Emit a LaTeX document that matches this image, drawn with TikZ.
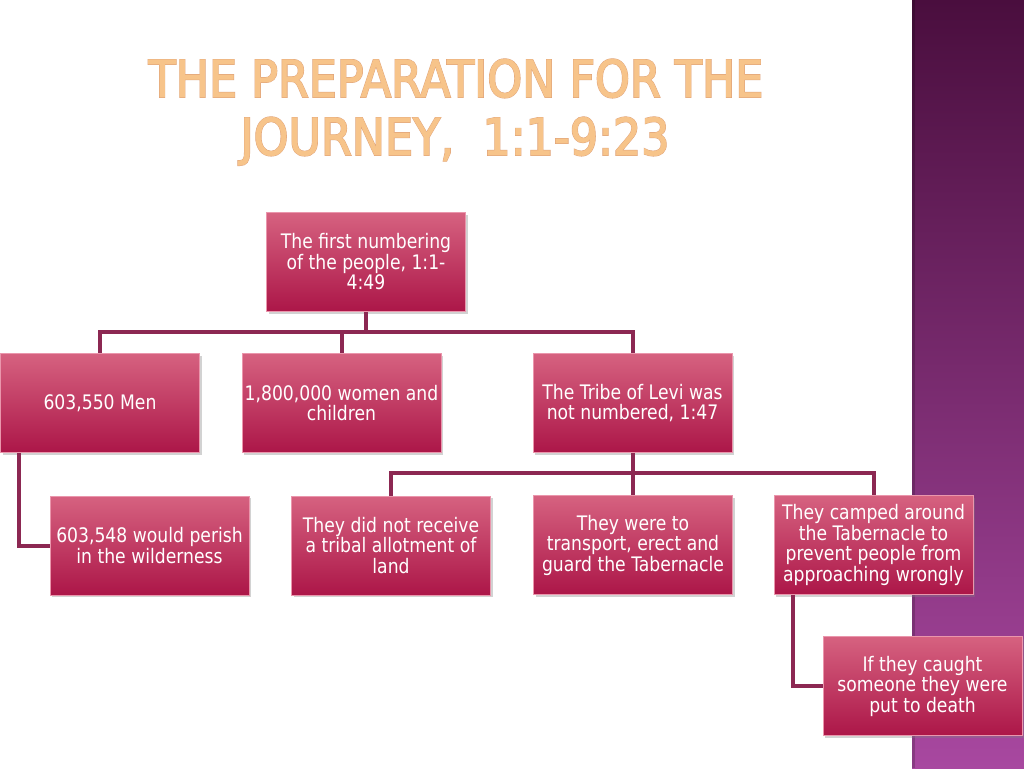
\documentclass[tikz,border=0pt]{standalone}
\usepackage{fontspec}
\setmainfont{DejaVu Sans}[FakeStretch=0.86]
\newfontfamily\titleout{DejaVu Sans}[FakeStretch=0.87,FakeBold=3.2]
\newfontfamily\titlein{DejaVu Sans}[FakeStretch=0.87,FakeBold=1.6]
\usetikzlibrary{shadows,calc}
\definecolor{boxtop}{RGB}{214,98,128}
\definecolor{boxbot}{RGB}{172,22,72}
\definecolor{boxedge}{RGB}{234,150,172}
\definecolor{conncol}{RGB}{140,40,82}
\definecolor{stripetop}{RGB}{74,14,62}
\definecolor{stripebot}{RGB}{168,72,160}
\definecolor{titlecol}{RGB}{247,196,138}
\definecolor{titleedge}{RGB}{222,160,120}
\begin{document}
\begin{tikzpicture}[x=1pt,y=-1pt,
  box/.style={rectangle, minimum width=199pt, minimum height=99pt, inner sep=1pt,
    text=white, align=center, font=\fontsize{20}{20.5}\selectfont,
    top color=boxtop, bottom color=boxbot, draw=boxedge, line width=0.8pt,
    drop shadow={shadow xshift=2pt, shadow yshift=-2pt, opacity=0.35}},
  conn/.style={draw=conncol, line width=4pt},
  titleback/.style={anchor=base, text=titleedge, font=\titleout\fontsize{51}{58}\selectfont, inner sep=0pt},
  titletext/.style={anchor=base, text=titlecol, font=\titlein\fontsize{51}{58}\selectfont, inner sep=0pt}]
\useasboundingbox (0,0) rectangle (1024,768);
\fill[white] (0,0) rectangle (1024,768);
\shade[top color=stripetop, bottom color=stripebot] (912,0) rectangle (1024,768);
\fill[black, opacity=0.18] (912,0) rectangle (915,768);

\node[titleback] (t1b) at (456,97) {THE PREPARATION FOR THE};
\node[titleback] (t2b) at (455,155) {JOURNEY,\ \ 1:1-9:23};
\node[titletext] (t1) at (456,97) {THE PREPARATION FOR THE};
\node[titletext] (t2) at (455,155) {JOURNEY,\ \ 1:1-9:23};

\node[box] (root) at (366,262) {The first numbering\\of the people, 1:1-\\4:49};
\node[box] (men) at (100,403) {603,550 Men};
\node[box] (women) at (341.5,403) {1,800,000 women and\\children};
\node[box] (levi) at (632.5,403) {The Tribe of Levi was\\not numbered, 1:47};
\node[box] (perish) at (149.5,545.5) {603,548 would perish\\in the wilderness};
\node[box] (notrecv) at (391,545.5) {They did not receive\\a tribal allotment of\\land};
\node[box] (transport) at (633,545) {They were to\\transport, erect and\\guard the Tabernacle};
\node[box] (camped) at (873.5,545) {They camped around\\the Tabernacle to\\prevent people from\\approaching wrongly};
\node[box] (caught) at (922.5,686) {If they caught\\someone they were\\put to death};

\coordinate (bus1) at (366,332);
\coordinate (bus2) at (632.5,473);
\draw[conn] (root.south) -- (bus1);
\draw[conn] (bus1) -| (men.north);
\draw[conn] (bus1) -| (women.north);
\draw[conn] (bus1) -| (levi.north);
\draw[conn] (levi.south) -- (bus2);
\draw[conn] (bus2) -| (notrecv.north);
\draw[conn] (bus2) -| (transport.north);
\draw[conn] (bus2) -| (camped.north);
\draw[conn] ([xshift=19pt]men.south west) |- (perish.west);
\draw[conn] ([xshift=19pt]camped.south west) |- (caught.west);
\end{tikzpicture}
\end{document}
